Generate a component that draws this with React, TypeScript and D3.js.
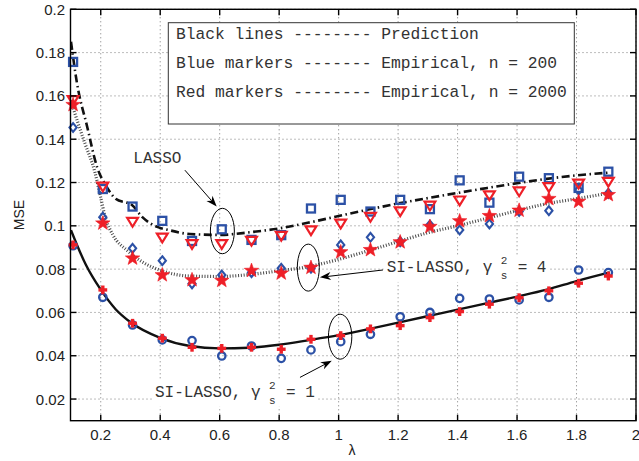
import React from 'react';
import * as d3 from 'd3';

const W = 639;
const H = 461;

const xTickValues = [0.2, 0.4, 0.6, 0.8, 1.0, 1.2, 1.4, 1.6, 1.8, 2.0];
const xTickLabels = ['0.2', '0.4', '0.6', '0.8', '1', '1.2', '1.4', '1.6', '1.8', '2'];
const yTickValues = [0.02, 0.04, 0.06, 0.08, 0.1, 0.12, 0.14, 0.16, 0.18, 0.2];
const yTickLabels = ['0.02', '0.04', '0.06', '0.08', '0.1', '0.12', '0.14', '0.16', '0.18', '0.2'];

// empirical points
const markerLambda = [0.107, 0.207, 0.307, 0.407, 0.507, 0.607, 0.707, 0.807, 0.907, 1.007, 1.107, 1.207, 1.307, 1.407, 1.507, 1.607, 1.707, 1.807, 1.907];
const lassoN200 = [0.1757, 0.117, 0.1089, 0.1023, 0.093, 0.0984, 0.0935, 0.0957, 0.108, 0.112, 0.1066, 0.112, 0.1077, 0.121, 0.1107, 0.1227, 0.122, 0.1175, 0.125];
const lassoN2000 = [0.158, 0.118, 0.1017, 0.0945, 0.0915, 0.0915, 0.093, 0.0953, 0.0978, 0.1009, 0.104, 0.1066, 0.1092, 0.1116, 0.114, 0.1158, 0.1178, 0.1194, 0.1202];
const si4N200 = [0.1454, 0.104, 0.0896, 0.0839, 0.0732, 0.0773, 0.0784, 0.0804, 0.0804, 0.0912, 0.0947, 0.0927, 0.1004, 0.0981, 0.1009, 0.1066, 0.107, 0.1165, 0.115];
const si4N2000 = [0.1559, 0.1012, 0.085, 0.0773, 0.075, 0.0747, 0.0793, 0.0781, 0.0807, 0.0879, 0.0889, 0.0925, 0.0996, 0.1022, 0.1046, 0.1071, 0.1125, 0.1112, 0.1143];
const si1N200 = [0.0908, 0.067, 0.0542, 0.0473, 0.047, 0.0399, 0.0445, 0.0388, 0.0427, 0.0465, 0.0499, 0.058, 0.06, 0.0665, 0.0662, 0.0658, 0.067, 0.0796, 0.0784];
const si1N2000 = [0.0912, 0.0704, 0.055, 0.0481, 0.0439, 0.0434, 0.0439, 0.043, 0.0476, 0.0493, 0.0524, 0.0539, 0.0576, 0.0604, 0.0638, 0.0668, 0.07, 0.0735, 0.0768];

// predictions
const lassoPredLambda = [0.1, 0.12, 0.154, 0.188, 0.22, 0.25, 0.305, 0.34, 0.39, 0.43, 0.5, 0.6, 0.7, 0.8, 0.9, 1.0, 1.1, 1.2, 1.3, 1.4, 1.5, 1.6, 1.7, 1.8, 1.912];
const lassoPred = [0.185, 0.166, 0.146, 0.127, 0.118, 0.1125, 0.1096, 0.104, 0.0995, 0.098, 0.0962, 0.0958, 0.097, 0.0988, 0.1015, 0.1045, 0.1075, 0.1103, 0.1128, 0.1152, 0.1175, 0.1197, 0.1217, 0.1233, 0.1246];
const si4PredLambda = [0.1, 0.113, 0.147, 0.18, 0.2, 0.215, 0.24, 0.29, 0.35, 0.4, 0.5, 0.6, 0.7, 0.8, 0.9, 1.0, 1.1, 1.2, 1.3, 1.4, 1.5, 1.6, 1.7, 1.8, 1.912];
const si4Pred = [0.158, 0.152, 0.138, 0.125, 0.113, 0.104, 0.096, 0.0885, 0.0825, 0.0795, 0.0768, 0.0766, 0.0775, 0.0792, 0.0812, 0.0845, 0.0885, 0.0927, 0.0968, 0.1, 0.1035, 0.107, 0.1102, 0.1125, 0.1152];
const si1PredLambda = [0.1, 0.15, 0.2, 0.25, 0.3, 0.4, 0.5, 0.6, 0.7, 0.8, 0.9, 1.0, 1.1, 1.2, 1.3, 1.4, 1.5, 1.6, 1.7, 1.8, 1.912];
const si1Pred = [0.098, 0.082, 0.0705, 0.0615, 0.0555, 0.0483, 0.0445, 0.0434, 0.0437, 0.0451, 0.0472, 0.0495, 0.0523, 0.0553, 0.0583, 0.0613, 0.0643, 0.0673, 0.0705, 0.0745, 0.0785];

const legendLines = [
  'Black lines -------- Prediction',
  'Blue markers ------- Empirical, n = 200',
  'Red markers -------- Empirical, n = 2000',
];

const BLUE = '#2c51a6';
const RED = '#ee1f27';
const MONO = '"Liberation Mono", "Courier New", monospace';
const SANS = '"Liberation Sans", Arial, Helvetica, sans-serif';

const M = { left: 70.5, right: 636, top: 9.3, bottom: 420.7 };

function starPath(ro: number, ri: number) {
  const pts: string[] = [];
  for (let i = 0; i < 10; i++) {
    const r = i % 2 === 0 ? ro : ri;
    const a = -Math.PI / 2 + (i * Math.PI) / 5;
    pts.push(`${(r * Math.cos(a)).toFixed(2)},${(r * Math.sin(a)).toFixed(2)}`);
  }
  return 'M' + pts.join('L') + 'Z';
}

function Arrow({ x1, y1, x2, y2 }: { x1: number; y1: number; x2: number; y2: number }) {
  const ang = Math.atan2(y2 - y1, x2 - x1);
  const L = 11, Wd = 4;
  const bx = x2 - L * Math.cos(ang);
  const by = y2 - L * Math.sin(ang);
  const px = -Math.sin(ang) * Wd, py = Math.cos(ang) * Wd;
  const nx = x2 - (L * 0.7) * Math.cos(ang);
  const ny = y2 - (L * 0.7) * Math.sin(ang);
  return (
    <g>
      <line x1={x1} y1={y1} x2={nx} y2={ny} stroke="#000" strokeWidth={1} />
      <path d={`M${x2},${y2}L${bx + px},${by + py}L${nx},${ny}L${bx - px},${by - py}Z`} fill="#000" />
    </g>
  );
}

export default function App() {
  const x = d3.scaleLinear().domain([0.1, 2]).range([71, 636]);
  const y = d3.scaleLinear().domain([0.01, 0.2]).range([M.bottom, M.top]);

  const mkLine = (xs: number[], ys: number[]) =>
    d3.line<number>().x((_, i) => x(xs[i])).y((d) => y(d)).curve(d3.curveMonotoneX)(ys) || '';

  const star = starPath(7.6, 3.1);
  const tick = 6;

  const gammaLabel = (lx: number, ly: number, val: string) => {
    const px = x(lx), py = y(ly);
    return (
      <g>
        <rect x={px - 3} y={py - 16} width={165} height={26} fill="#fff" />
        <text x={px} y={py} fontFamily={MONO} fontSize={16} fill="#333">SI-LASSO, γ</text>
        <text x={px + 114} y={py - 8} fontFamily={MONO} fontSize={11} fill="#333">2</text>
        <text x={px + 114} y={py + 7} fontFamily={MONO} fontSize={11} fill="#333">s</text>
        <text x={px + 131} y={py} fontFamily={MONO} fontSize={16} fill="#333">= {val}</text>
      </g>
    );
  };

  return (
    <svg width={W} height={H} style={{ position: 'absolute', left: 0, top: 0, background: '#fff' }}>
      <rect x={0} y={0} width={W} height={H} fill="#fff" />
      <defs>
        <clipPath id="plotclip">
          <rect x={M.left} y={M.top} width={M.right - M.left} height={M.bottom - M.top} />
        </clipPath>
      </defs>
      {/* grid */}
      <g stroke="#7a7a7a" strokeWidth={1} strokeDasharray="1,3">
        {xTickValues.map((v) => (
          <line key={'gx' + v} x1={x(v)} x2={x(v)} y1={M.top} y2={M.bottom} />
        ))}
        {yTickValues.map((v) => (
          <line key={'gy' + v} x1={M.left} x2={M.right} y1={y(v)} y2={y(v)} />
        ))}
      </g>

      <g clipPath="url(#plotclip)" fill="none">
        <path d={mkLine(si4PredLambda, si4Pred)} stroke="#4a4a4a" strokeWidth={3.2} strokeDasharray="1,1.8" />
        <path d={mkLine(lassoPredLambda, lassoPred)} stroke="#111" strokeWidth={2.6} strokeDasharray="8,3.5,1.5,3.5" />
        <path d={mkLine(si1PredLambda, si1Pred)} stroke="#111" strokeWidth={2.4} />
      </g>

      {/* blue markers */}
      <g fill="none" stroke={BLUE} strokeWidth={2.3}>
        {lassoN200.map((v, i) => (
          <rect key={'sq' + i} x={x(markerLambda[i]) - 4} y={y(v) - 4} width={8} height={8} />
        ))}
        {si4N200.map((v, i) => (
          <path key={'dm' + i} transform={`translate(${x(markerLambda[i])},${y(v)})`} d="M0,-4.4L3.6,0L0,4.4L-3.6,0Z" strokeWidth={2.1} />
        ))}
        {si1N200.map((v, i) => (
          <circle key={'ci' + i} cx={x(markerLambda[i])} cy={y(v)} r={3.7} />
        ))}
      </g>
      {/* red markers */}
      <g>
        {lassoN2000.map((v, i) => (
          <path key={'tr' + i} transform={`translate(${x(markerLambda[i])},${y(v)})`} d="M-5.4,-4.2L5.4,-4.2L0,4.6Z" fill="none" stroke={RED} strokeWidth={2.2} />
        ))}
        {si4N2000.map((v, i) => (
          <path key={'st' + i} transform={`translate(${x(markerLambda[i])},${y(v)})`} d={star} fill={RED} stroke={RED} strokeWidth={0.6} />
        ))}
        {si1N2000.map((v, i) => (
          <g key={'pl' + i} transform={`translate(${x(markerLambda[i])},${y(v)})`} stroke={RED} strokeWidth={3.4}>
            <line x1={-4.4} x2={4.4} y1={0} y2={0} />
            <line x1={0} x2={0} y1={-4.4} y2={4.4} />
          </g>
        ))}
      </g>

      {/* annotations */}
      <g fill="none" stroke="#000" strokeWidth={1}>
        <ellipse cx={x(0.609)} cy={y(0.0976)} rx={12} ry={22.7} />
        <ellipse cx={x(0.898)} cy={y(0.0807)} rx={11} ry={23.5} />
        <ellipse cx={x(1.005)} cy={y(0.0488)} rx={11.7} ry={22.5} />
      </g>
      <Arrow x1={x(0.483)} y1={y(0.1257)} x2={x(0.59)} y2={y(0.1089)} />
      <Arrow x1={x(1.149)} y1={y(0.0796)} x2={x(0.937)} y2={y(0.0762)} />
      <Arrow x1={x(0.87)} y1={y(0.030)} x2={x(0.977)} y2={y(0.0377)} />
      <text x={x(0.3096)} y={y(0.1288)} fontFamily={MONO} fontSize={16} fill="#333">LASSO</text>
      {gammaLabel(1.1615, 0.0787, '4')}
      {gammaLabel(0.3824, 0.0211, '1')}

      {/* legend */}
      <rect x={168.3} y={22.7} width={406} height={101.3} fill="#fff" stroke="#333" strokeWidth={1} />
      {legendLines.map((t, i) => (
        <text key={'lg' + i} x={176} y={38.5 + i * 29} fontFamily={MONO} fontSize={16.3} fill="#333">{t}</text>
      ))}

      {/* axes frame & ticks */}
      <g stroke="#000" strokeWidth={1.4} fill="none">
        <rect x={M.left} y={M.top} width={M.right - M.left} height={M.bottom - M.top} />
        {xTickValues.map((v) => (
          <g key={'tx' + v}>
            <line x1={x(v)} x2={x(v)} y1={M.bottom} y2={M.bottom - tick} />
            <line x1={x(v)} x2={x(v)} y1={M.top} y2={M.top + tick} />
          </g>
        ))}
        {yTickValues.map((v) => (
          <g key={'ty' + v}>
            <line x1={M.left} x2={M.left + tick} y1={y(v)} y2={y(v)} />
            <line x1={M.right} x2={M.right - tick} y1={y(v)} y2={y(v)} />
          </g>
        ))}
      </g>
      <g fontFamily={SANS} fontSize={15} fill="#222">
        {xTickValues.map((v, i) => (
          <text key={'xl' + v} x={x(v)} y={440} textAnchor="middle">{xTickLabels[i]}</text>
        ))}
        {yTickValues.map((v, i) => (
          <text key={'yl' + v} x={65} y={y(v)} textAnchor="end" dominantBaseline="central">{yTickLabels[i]}</text>
        ))}
        <text x={352} y={455} textAnchor="middle" fontSize={14}>λ</text>
        <text transform="translate(24,215) rotate(-90)" textAnchor="middle" fontSize={14}>MSE</text>
      </g>
    </svg>
  );
}
